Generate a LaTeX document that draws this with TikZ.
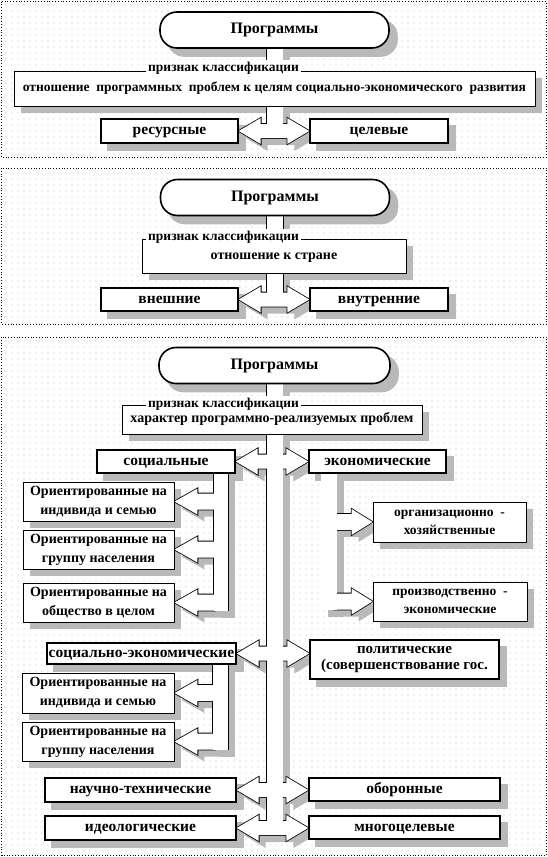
\documentclass[tikz,border=0pt]{standalone}
\usepackage{fontspec}
\setmainfont{Liberation Serif}
\usetikzlibrary{calc,patterns.meta}

\pgfdeclarelayer{panels}
\pgfdeclarelayer{shades}
\pgfdeclarelayer{arrows}
\pgfsetlayers{panels,shades,arrows,main}

\tikzset{
  panel/.style={draw, dotted, line width=0.8pt,
    pattern={Dots[distance=6pt, radius=0.45pt]}, pattern color=black!70},
  wh/.style 2 args={minimum width=#1pt, minimum height=#2pt},
  progbox/.style={draw, line width=1.6pt, fill=white, rounded corners=17pt,
    minimum width=229pt, minimum height=36pt, text height=10.5pt, text depth=3pt,
    font=\fontsize{16}{18}\selectfont\bfseries},
  kindbox/.style={draw, line width=1.4pt, fill=white, inner sep=0pt,
    text height=10pt, text depth=3pt, font=\fontsize{15.5}{16}\selectfont\bfseries},
  subbox/.style={draw, line width=0.9pt, fill=white, inner sep=0pt, align=center,
    font=\fontsize{14}{19}\selectfont\bfseries},
  critbox/.style={draw, line width=0.8pt, fill=white, inner sep=0pt,
    text height=9.5pt, text depth=3pt, font=\fontsize{14}{16}\selectfont\bfseries},
  critlabel/.style={fill=white, inner sep=2pt, anchor=west,
    font=\fontsize{13.5}{15}\selectfont\bfseries},
  shade/.style={fill=gray!55},
}

% block arrow between two boxes of one row
\newcommand\twoway[2]{%
  ($(#1.east)$) -- ++(22,-13) -- ++(0,6) -- ($(#2.west |- #1.east)+(-22,-7)$)
  -- ++(0,-6) -- (#2.west |- #1.east) -- ++(-22,13) -- ++(0,-6)
  -- ($(#1.east)+(22,7)$) -- ++(0,6) -- cycle}
% branch arrows pointing left / right
\newcommand\leftbranch[1]{%
  (#1.east) -- ++(23,-13) -- ++(0,5) -- ++(18,0) -- ++(0,16) -- ++(-18,0) -- ++(0,5) -- cycle}
\newcommand\rightbranch[1]{%
  (#1.west) -- ++(-21,-13) -- ++(0,5) -- ++(-18,0) -- ++(0,16) -- ++(18,0) -- ++(0,5) -- cycle}

% all block arrows, drawn with the given options
\newcommand\blockarrows[1]{%
  % first panel
  \path[#1] ($(prog1.south)+(-8,0)$) rectangle ($(prog1.south |- res.east)+(8,0)$);
  \path[#1] \twoway{res}{goal};
  % second panel
  \path[#1] ($(prog2.south)+(-8,0)$) rectangle ($(prog2.south |- outer.east)+(8,0)$);
  \path[#1] \twoway{outer}{inner};
  % third panel
  \path[#1] ($(prog3.south)+(-8,0)$) rectangle ($(prog3.south |- ideo.east)+(8,0)$);
  \foreach \l/\r in {soc/econ, socec/pol, sci/def, ideo/multi}
    \path[#1] \twoway{\l}{\r};
  \path[#1] ($(soc.south east)+(-22,-1)$) rectangle ($(soc3.east)+(54,8)$);
  \foreach \n in {soc1,soc2,soc3}
    \path[#1] \leftbranch{\n};
  \path[#1] ($(econ.south west)+(13,-1)$) rectangle ($(econ2.west)+(-36,8)$);
  \foreach \n in {econ1,econ2}
    \path[#1] \rightbranch{\n};
  \path[#1] ($(socec.south east)+(-24,-1)$) rectangle ($(socec2.east)+(54,8)$);
  \foreach \n in {socec1,socec2}
    \path[#1] \leftbranch{\n};
}

\begin{document}
\begin{tikzpicture}[x=1pt, y=-1pt]
  \useasboundingbox (0,0) rectangle (548,857);

  % Panels
  \begin{pgfonlayer}{panels}
    \path[panel] (1.5,1.5) rectangle (546.5,157);
    \path[panel] (1.5,168) rectangle (546.5,324);
    \path[panel] (1.5,337) rectangle (546.5,855.5);
  \end{pgfonlayer}

  % First panel
  \node[progbox] (prog1) at (274.5,30) {Программы};
  \node[critbox, wh={521}{35}, font=\fontsize{13.5}{16}\selectfont\bfseries] (crit1) at (274.5,88.5)
    {отношение\ \ программных\ \ проблем к целям социально-экономического\ \ развития};
  \node[critlabel] (lab1) at (146,68) {признак\ классификации};
  \node[kindbox, wh={137}{24}] (res) at (169.5,131) {ресурсные};
  \node[kindbox, wh={138}{24}] (goal) at (379,131) {целевые};

  % Second panel
  \node[progbox] (prog2) at (275,197.5) {Программы};
  \node[critbox, wh={264}{34}] (crit2) at (274,256) {отношение\ к стране};
  \node[critlabel] (lab2) at (146,237) {признак классификации};
  \node[kindbox, wh={137}{23}] (outer) at (169.5,299.5) {внешние};
  \node[kindbox, wh={138}{23}] (inner) at (379,299.5) {внутренние};

  % Third panel
  \node[progbox, minimum width=231pt] (prog3) at (274.5,365.5) {Программы};
  \node[critbox, wh={300}{29}] (crit3) at (272,419.5) {характер программно-реализуемых проблем};
  \node[critlabel] (lab3) at (146,404) {признак\ классификации};
  \node[kindbox, wh={138}{23}] (soc) at (166,461.5) {социальные};
  \node[kindbox, wh={137}{23}] (econ) at (377.5,461.5) {экономические};
  \node[subbox, wh={151}{39}] (soc1) at (98.5,501.5) {Ориентированные на\\индивида и семью};
  \node[subbox, wh={151}{39}] (soc2) at (98.5,549.5) {Ориентированные на\\группу населения};
  \node[subbox, wh={151}{39}] (soc3) at (98.5,602.5) {Ориентированные на\\общество в целом};
  \node[subbox, wh={153}{40}, font=\fontsize{13.5}{18}\selectfont\bfseries] (econ1) at (449.5,522)
    {организационно~~-\\хозяйственные};
  \node[subbox, wh={154}{39}, font=\fontsize{13.5}{18}\selectfont\bfseries] (econ2) at (450,601.5)
    {производственно~~-\\экономические};
  \node[kindbox, wh={189}{21}] (socec) at (141.5,653.5) {социально-экономические};
  \node[kindbox, wh={189}{39}, align=center, text height=, text depth=,
    font=\fontsize{15}{16}\selectfont\bfseries] (pol)
    at (404.5,659.5) {политические\\(совершенствование гос.};
  \node[subbox, wh={152}{40}] (socec1) at (98,693) {Ориентированные на\\индивида и семью};
  \node[subbox, wh={152}{39}] (socec2) at (98,741.5) {Ориентированные на\\группу населения};
  \node[kindbox, wh={191}{24}] (sci) at (140.5,790) {научно-технические};
  \node[kindbox, wh={191}{23}] (def) at (404.5,789.5) {оборонные};
  \node[kindbox, wh={191}{24}] (ideo) at (140.5,828) {идеологические};
  \node[kindbox, wh={191}{23}] (multi) at (404.5,827.5) {многоцелевые};

  % Shadows
  \begin{pgfonlayer}{shades}
    \foreach \n in {crit1,res,goal,crit2,outer,inner,crit3,soc,econ,soc1,soc2,soc3,
                    econ1,econ2,socec,pol,socec1,socec2,sci,def,ideo,multi}
      \fill[shade] ($(\n.south west)+(7,7)$) rectangle ($(\n.north east)+(7,7)$);
    \foreach \n in {prog1,prog2,prog3}
      \fill[shade, rounded corners=17pt] ($(\n.south west)+(8,8)$) rectangle ($(\n.north east)+(8,8)$);
    \begin{scope}[transform canvas={xshift=7pt, yshift=-7pt}]
      \blockarrows{shade}
    \end{scope}
  \end{pgfonlayer}

  % Block arrows
  \begin{pgfonlayer}{arrows}
    \blockarrows{draw, line width=1.6pt}
    \blockarrows{fill=white}
  \end{pgfonlayer}
\end{tikzpicture}
\end{document}
